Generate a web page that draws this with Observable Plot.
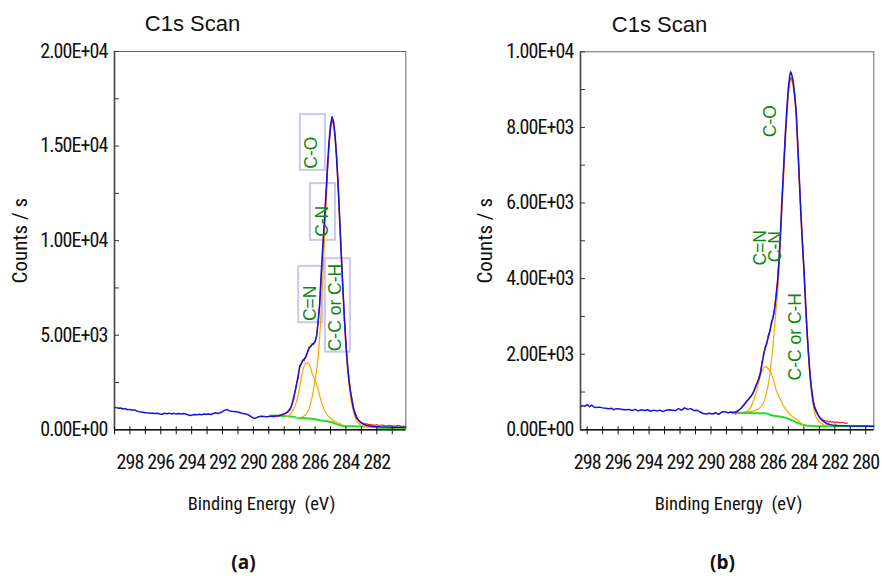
<!DOCTYPE html>
<html><head><meta charset="utf-8">
<script src="https://cdn.jsdelivr.net/npm/d3@7"></script>
<script src="https://cdn.jsdelivr.net/npm/@observablehq/plot@0.6"></script>
<style>
body{margin:0;background:#fff;}
#wrap{position:relative;width:882px;height:576px;overflow:hidden;}
#pa,#pb{position:absolute;top:0;width:441px;height:576px;}
#pa{left:0;} #pb{left:441px;}
g[aria-label="y-axis tick label"] text, g[aria-label="x-axis tick label"] text { letter-spacing: -0.9px; }
g[aria-label="x-title"] text { letter-spacing: -0.5px; }
</style></head><body><div id="wrap"><div id="pa"></div><div id="pb"></div></div>
<script>
// ---------- Panel (a) data: [binding energy eV, counts/s] ----------
const aEnvelope = [[299.0,1190],[298.85,1160],[298.7,1140],[298.6,1150],[298.45,1100],[298.3,1120],[298.15,1060],[298.0,1080],[297.85,1030],[297.7,1050],[297.55,990],[297.4,960],[297.25,940],[297.1,920],[296.95,900],[296.8,890],[296.65,880],[296.5,870],[296.35,860],[296.2,870],[296.05,840],[295.9,820],[295.75,880],[295.6,850],[295.45,880],[295.3,840],[295.15,870],[295.0,830],[294.85,860],[294.7,840],[294.55,860],[294.4,830],[294.25,800],[294.1,760],[293.95,780],[293.8,810],[293.65,790],[293.5,820],[293.35,800],[293.2,830],[293.05,820],[292.9,840],[292.75,810],[292.6,860],[292.45,900],[292.3,860],[292.15,900],[292.0,960],[291.85,1040],[291.7,1070],[291.55,1000],[291.4,980],[291.25,970],[291.1,950],[290.95,930],[290.8,890],[290.65,860],[290.5,840],[290.35,800],[290.2,720],[290.05,640],[289.9,600],[289.75,660],[289.6,700],[289.45,710],[289.3,700],[289.15,690],[289.0,700],[288.85,710],[288.7,720],[288.55,730],[288.4,740],[288.2,780],[288.0,830],[287.8,920],[287.6,1100],[287.4,1600],[287.2,2400],[287.0,3300],[286.8,3650],[286.6,3850],[286.4,4300],[286.2,4500],[286.0,4650],[285.9,4950],[285.8,5700],[285.7,6700],[285.6,8300],[285.5,9700],[285.4,11000],[285.3,12400],[285.2,13900],[285.1,15200],[285.0,16100],[284.9,16550],[284.8,16300],[284.7,15500],[284.6,14300],[284.5,12800],[284.4,11000],[284.3,9200],[284.2,7500],[284.1,5900],[284.0,4500],[283.9,3450],[283.8,2600],[283.7,2000],[283.6,1500],[283.5,1100],[283.4,800],[283.3,620],[283.1,420],[282.9,310],[282.6,220],[282.2,180],[281.8,160],[281.4,150],[281.0,140],[280.6,135],[280.12,130]];
const aRaw = [[288.8,700],[288.6,680],[288.5,760],[288.4,700],[288.2,800],[288.0,850],[287.8,960],[287.6,1150],[287.5,1300],[287.4,1750],[287.3,2000],[287.2,2450],[287.1,2700],[287.0,3400],[286.9,3500],[286.8,3700],[286.7,3650],[286.6,3900],[286.5,4100],[286.4,4350],[286.3,4400],[286.2,4550],[286.1,4500],[286.0,4700],[285.9,5000],[285.8,5800],[285.7,6600],[285.6,8100],[285.5,9500],[285.4,10900],[285.3,12200],[285.2,13700],[285.1,15000],[285.0,15900],[284.9,16350],[284.8,16200],[284.7,15600],[284.6,14500],[284.5,13000],[284.4,11200],[284.3,9400],[284.2,7600],[284.1,6000],[284.0,4700],[283.9,3500],[283.8,2700],[283.7,2000],[283.6,1600],[283.5,1150],[283.4,900],[283.3,700],[283.2,520],[283.1,450],[283.0,380],[282.9,350],[282.8,330],[282.7,300],[282.6,310],[282.5,260],[282.4,290],[282.3,240],[282.2,260],[282.1,230],[282.0,280],[281.9,220],[281.8,240],[281.6,250],[281.4,200],[281.2,230],[281.0,210],[280.8,190],[280.6,230],[280.4,180],[280.2,200]];
const aMainPeak = [[287.4,640],[287.0,650],[286.8,690],[286.6,800],[286.4,1100],[286.3,1350],[286.2,1700],[286.1,2150],[286.0,2650],[285.9,3100],[285.8,3800],[285.7,4900],[285.6,6400],[285.5,8000],[285.4,9800],[285.3,11700],[285.2,13400],[285.1,14900],[285.0,15900],[284.9,16350],[284.8,16100],[284.7,15300],[284.6,14100],[284.5,12600],[284.4,10800],[284.3,9000],[284.2,7300],[284.1,5700],[284.0,4300],[283.9,3150],[283.8,2350],[283.7,1700],[283.6,1250],[283.5,900],[283.4,650],[283.3,450],[283.1,280],[282.9,200],[282.6,170],[282.3,160]];
const aCNPeak = [[287.9,700],[287.7,740],[287.5,900],[287.4,1080],[287.3,1250],[287.2,1500],[287.1,1850],[287.0,2250],[286.9,2700],[286.8,3100],[286.7,3400],[286.6,3520],[286.5,3550],[286.4,3500],[286.3,3300],[286.2,3000],[286.1,2800],[286.0,2650],[285.9,2400],[285.8,2150],[285.7,1800],[285.6,1500],[285.5,1250],[285.4,1050],[285.3,900],[285.2,780],[285.0,610],[284.8,480],[284.6,400],[284.4,330],[284.2,250]];
const aBackground = [[288.9,760],[288.4,740],[287.9,720],[287.4,690],[287.2,640],[286.8,620],[286.4,600],[286.0,560],[285.7,500],[285.3,460],[284.9,400],[284.6,300],[284.3,220],[284.1,190],[283.5,185],[283.0,180],[282.5,170],[282.0,130],[281.6,80],[281.2,60],[280.2,50]];
const aLabelText = ["C-O","C-N","C=N","C-C or C-H"];
const aLabelEnergy = [286.21,285.52,286.33,284.68];
const aLabelCounts = [13800,10200,5750,4150];
const aBoxEnergy = [[286.95,285.33],[286.30,284.68],[287.06,285.50],[285.33,283.71]];
const aBoxCounts = [[13717,16664],[10014,13013],[5660,8639],[4105,9046]];
const aXTicks = [299,298,297,296,295,294,293,292,291,290,289,288,287,286,285,284,283,282,281];
const aXTickLabels = [298,296,294,292,290,288,286,284,282];
const aYTicks = [0,2500,5000,7500,10000,12500,15000,17500,20000];
const aYTickLabels = [0,5000,10000,15000,20000];

// ---------- Panel (b) data ----------
const bEnvelope = [[298.43,610],[298.3,640],[298.15,620],[298.0,670],[297.85,610],[297.7,650],[297.55,600],[297.4,590],[297.2,600],[297.0,580],[296.8,570],[296.6,560],[296.4,570],[296.3,530],[296.1,560],[295.9,550],[295.7,540],[295.5,530],[295.3,540],[295.1,510],[294.9,540],[294.7,500],[294.5,530],[294.3,510],[294.1,530],[293.9,490],[293.7,520],[293.5,500],[293.3,520],[293.1,480],[292.9,520],[292.7,530],[292.5,520],[292.3,510],[292.1,560],[291.9,520],[291.7,580],[291.5,540],[291.3,560],[291.1,510],[290.9,520],[290.7,470],[290.5,430],[290.3,420],[290.1,440],[289.9,420],[289.7,450],[289.5,410],[289.3,470],[289.1,480],[288.9,450],[288.7,470],[288.5,460],[288.3,490],[288.1,550],[287.9,640],[287.7,750],[287.5,840],[287.3,950],[287.1,1150],[286.9,1350],[286.8,1500],[286.7,1750],[286.6,2000],[286.5,2150],[286.4,2300],[286.3,2450],[286.2,2600],[286.1,2800],[286.0,2950],[285.9,3150],[285.8,3500],[285.7,3900],[285.6,4500],[285.5,5300],[285.4,6200],[285.3,7000],[285.2,7800],[285.1,8500],[285.0,9050],[284.9,9400],[284.85,9470],[284.8,9420],[284.7,9250],[284.6,8900],[284.5,8450],[284.4,7600],[284.3,6700],[284.2,5800],[284.1,5000],[284.0,4300],[283.9,3450],[283.8,2650],[283.7,2000],[283.6,1450],[283.5,1050],[283.4,750],[283.3,580],[283.2,480],[283.0,330],[282.8,240],[282.5,160],[282.2,130],[281.8,115],[281.2,105],[280.5,100],[279.48,95]];
const bRaw = [[288.6,430],[288.5,470],[288.4,410],[288.3,500],[288.2,520],[288.1,560],[288.0,600],[287.9,660],[287.8,700],[287.7,760],[287.6,800],[287.5,860],[287.4,900],[287.3,980],[287.2,1050],[287.1,1180],[287.0,1250],[286.9,1400],[286.8,1550],[286.7,1800],[286.6,1950],[286.5,2200],[286.4,2250],[286.3,2500],[286.2,2600],[286.1,2850],[286.0,2950],[285.9,3200],[285.8,3550],[285.7,3950],[285.6,4550],[285.5,5300],[285.4,6150],[285.3,6950],[285.2,7750],[285.1,8400],[285.0,8950],[284.9,9250],[284.85,9300],[284.8,9300],[284.7,9200],[284.6,8900],[284.5,8450],[284.4,7650],[284.3,6750],[284.2,5850],[284.1,5050],[284.0,4350],[283.9,3500],[283.8,2700],[283.7,2050],[283.6,1500],[283.5,1100],[283.4,800],[283.3,620],[283.2,520],[283.1,420],[283.0,350],[282.9,300],[282.8,280],[282.7,250],[282.6,230],[282.5,240],[282.4,200],[282.3,230],[282.2,190],[282.1,220],[282.0,180],[281.9,210],[281.7,190],[281.5,200],[281.3,170],[281.17,180]];
const bMainPeak = [[287.6,480],[287.2,500],[286.9,560],[286.7,640],[286.6,720],[286.5,820],[286.4,1000],[286.3,1200],[286.2,1450],[286.1,1800],[286.0,2200],[285.9,2700],[285.8,3150],[285.7,3600],[285.6,4200],[285.5,5000],[285.4,5900],[285.3,6700],[285.2,7500],[285.1,8250],[285.0,8850],[284.9,9250],[284.85,9320],[284.8,9250],[284.7,9100],[284.6,8750],[284.5,8300],[284.4,7450],[284.3,6550],[284.2,5650],[284.1,4850],[284.0,4150],[283.9,3300],[283.8,2550],[283.7,1900],[283.6,1350],[283.5,950],[283.4,650],[283.3,450],[283.2,330],[283.0,200],[282.7,130],[282.4,110]];
const bCNPeak = [[287.9,470],[287.6,500],[287.43,598],[287.3,720],[287.1,950],[286.95,1200],[286.78,1481],[286.6,1640],[286.46,1675],[286.3,1620],[286.14,1524],[286.0,1380],[285.92,1259],[285.8,1060],[285.6,862],[285.4,700],[285.27,598],[285.1,500],[284.95,423],[284.75,350],[284.52,291],[284.3,220],[284.1,150]];
const bBackground = [[288.4,450],[288.0,445],[287.5,445],[287.0,440],[286.46,440],[286.2,400],[286.03,378],[285.6,350],[285.16,317],[284.8,260],[284.52,201],[284.2,150],[283.87,114],[283.4,100],[283.01,95],[281.5,95],[279.48,95]];
const bLabelText = ["C-O","C=N","C-N","C-C or C-H"];
const bLabelEnergy = [286.16,286.80,285.84,284.54];
const bLabelCounts = [7741,4347,4434,1304];
const bXTicks = [298,297,296,295,294,293,292,291,290,289,288,287,286,285,284,283,282,281,280];
const bXTickLabels = [298,296,294,292,290,288,286,284,282,280];
const bYTicks = [0,1000,2000,3000,4000,5000,6000,7000,8000,9000,10000];
const bYTickLabels = [0,2000,4000,6000,8000,10000];

const titleText = "C1s Scan";
const xTitle = "Binding Energy  (eV)";
const yTitle = "Counts / s";

// ---------- drawing ----------
const NARROW = '"Liberation Sans Narrow","Arial Narrow","Roboto Condensed",sans-serif';
const SANS = '"Liberation Sans",Arial,sans-serif';
function sci(v){
  if (v === 0) return "0.00E+00";
  const e = Math.floor(Math.log10(v) + 1e-9);
  const m = v / Math.pow(10, e);
  return m.toFixed(2) + "E+" + String(e).padStart(2, "0");
}
const toObj = arr => arr.map(([e, c]) => ({e, c}));
const line = (arr, stroke, w) => Plot.line(toObj(arr), {x: "e", y: "c", stroke, strokeWidth: w});

function panel(cfg){
  const labels = cfg.labelText.map((t, i) => ({t, e: cfg.labelEnergy[i], c: cfg.labelCounts[i]}));
  const boxes = (cfg.boxEnergy || []).map((be, i) => ({x1: be[0], x2: be[1], y1: cfg.boxCounts[i][0], y2: cfg.boxCounts[i][1]}));
  const fcx = (cfg.ml + 441 - cfg.mr) / 2;
  return Plot.plot({
    width: 441, height: 576,
    marginLeft: cfg.ml, marginRight: cfg.mr, marginTop: cfg.mt, marginBottom: 576 - 429.3,
    style: {fontFamily: NARROW, fontSize: "18px", background: "#fff", color: "#111", overflow: "visible"},
    x: {domain: cfg.xDomain, label: null},
    y: {domain: cfg.yDomain, label: null},
    marks: [
      Plot.frame({stroke: "#666", strokeWidth: 1}),
      Plot.rect(boxes, {x1: "x1", x2: "x2", y1: "y1", y2: "y2", fill: "none", stroke: "#c8c8f4", strokeWidth: 2}),
      line(cfg.background, "#22dd22", 2),
      line(cfg.cn, "#ffa500", 1.2),
      line(cfg.main, "#ffa500", 1.2),
      line(cfg.raw, "#ff2020", 1.2),
      line(cfg.env, "#1414e0", 1.5),
      Plot.ruleX([cfg.xDomain[0]], {stroke: "#444", strokeWidth: 1.6}),
      Plot.ruleY([0], {stroke: "#111", strokeWidth: 1.5}),
      Plot.axisY({ticks: cfg.yTicks, tickSize: 5, dx: 5, fill: "none", stroke: "#333", label: null}),
      Plot.axisY({ticks: cfg.yLabels, tickSize: 0, tickPadding: 7, tickFormat: sci, label: null, fill: "#111", fontSize: 20}),
      Plot.axisX({ticks: cfg.xTicks, tickSize: 8, dy: -3, fill: "none", stroke: "#111", label: null}),
      Plot.axisX({ticks: cfg.xLabels, tickSize: 0, tickPadding: 25, tickFormat: d => String(d), label: null, fill: "#111", fontSize: 20}),
      Plot.text(labels, {x: "e", y: "c", text: "t", rotate: -90, textAnchor: "start", lineAnchor: "middle", fill: "#0b880b", fontSize: 17.5, fontFamily: SANS}),
      Plot.text([titleText], {text: d => d, frameAnchor: "top", dx: cfg.titleX - fcx, dy: -20.3, lineAnchor: "bottom", fontSize: 22, fontFamily: SANS, fill: "#111"}),
      Plot.text([xTitle], {text: d => d, frameAnchor: "bottom", dx: cfg.xTitleX - fcx, dy: 80, lineAnchor: "bottom", fontSize: 18.5, fill: "#111", ariaLabel: "x-title"}),
      Plot.text([yTitle], {text: d => d, frameAnchor: "left", dx: cfg.yTitleDx, rotate: -90, textAnchor: "middle", lineAnchor: "middle", fontSize: 21, fill: "#111"}),
      Plot.text([cfg.tag], {text: d => d, frameAnchor: "bottom", dx: cfg.tagX - fcx, dy: 139, lineAnchor: "bottom", fontSize: 19, fontWeight: "bold", fontFamily: "'Open Sans',Lato,sans-serif", fill: "#111"})
    ]
  });
}

document.getElementById("pa").append(panel({
  ml: 114, mr: 441 - 405.3, mt: 51,
  xDomain: [299, 280.12], yDomain: [0, 20000],
  env: aEnvelope, raw: aRaw, main: aMainPeak, cn: aCNPeak, background: aBackground,
  labelText: aLabelText, labelEnergy: aLabelEnergy, labelCounts: aLabelCounts,
  boxEnergy: aBoxEnergy, boxCounts: aBoxCounts,
  xTicks: aXTicks, xLabels: aXTickLabels, yTicks: aYTicks, yLabels: aYTickLabels,
  titleX: 192, xTitleX: 261, yTitleDx: -94, tag: "(a)", tagX: 243
}));
document.getElementById("pb").append(panel({
  ml: 580 - 441, mr: 441 - (873.3 - 441), mt: 51.3,
  xDomain: [298.43, 279.48], yDomain: [0, 10000],
  env: bEnvelope, raw: bRaw, main: bMainPeak, cn: bCNPeak, background: bBackground,
  labelText: bLabelText, labelEnergy: bLabelEnergy, labelCounts: bLabelCounts,
  xTicks: bXTicks, xLabels: bXTickLabels, yTicks: bYTicks, yLabels: bYTickLabels,
  titleX: 659 - 441, xTitleX: 728 - 441, yTitleDx: -95, tag: "(b)", tagX: 722 - 441
}));
</script></body></html>
